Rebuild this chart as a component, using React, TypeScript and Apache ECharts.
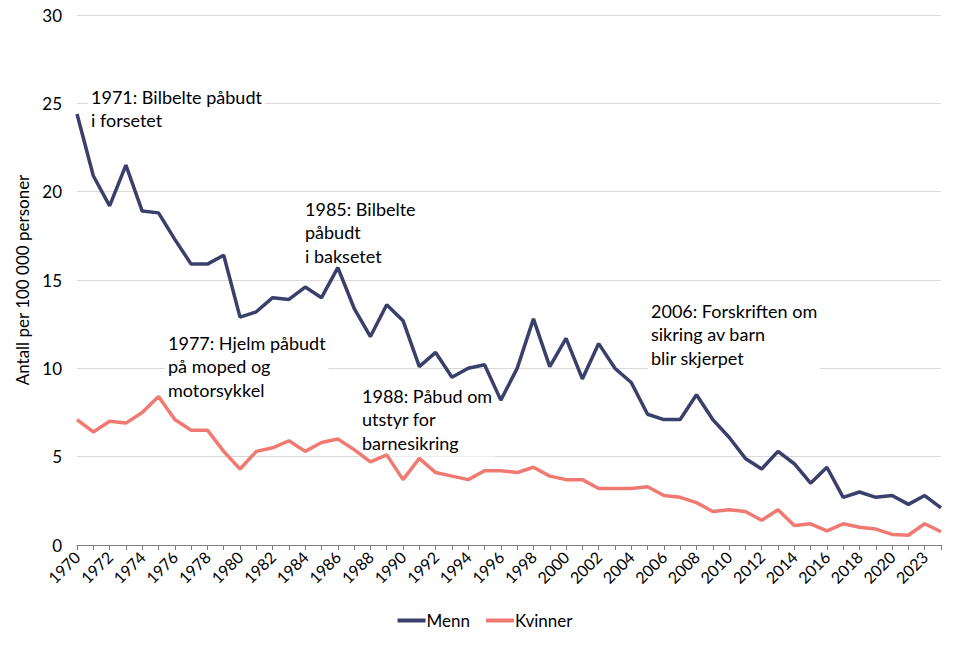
import React, { useEffect, useRef } from "react";
import * as echarts from "echarts";

const years = [
  "1970","1971","1972","1973","1974","1975","1976","1977","1978","1979",
  "1980","1981","1982","1983","1984","1985","1986","1987","1988","1989",
  "1990","1991","1992","1993","1994","1995","1996","1997","1998","1999",
  "2000","2001","2002","2003","2004","2005","2006","2007","2008","2009",
  "2010","2011","2012","2013","2014","2015","2016","2017","2018","2019",
  "2020","2022","2023","2024",
];

const menn = [
  24.4, 20.9, 19.2, 21.5, 18.9, 18.8, 17.3, 15.9, 15.9, 16.4,
  12.9, 13.2, 14.0, 13.9, 14.6, 14.0, 15.7, 13.4, 11.8, 13.6,
  12.7, 10.1, 10.9, 9.5, 10.0, 10.2, 8.2, 10.0, 12.8, 10.1,
  11.7, 9.4, 11.4, 10.0, 9.2, 7.4, 7.1, 7.1, 8.5, 7.1,
  6.1, 4.9, 4.3, 5.3, 4.6, 3.5, 4.4, 2.7, 3.0, 2.7,
  2.8, 2.3, 2.8, 2.1,
];

const kvinner = [
  7.1, 6.4, 7.0, 6.9, 7.5, 8.4, 7.1, 6.5, 6.5, 5.3,
  4.3, 5.3, 5.5, 5.9, 5.3, 5.8, 6.0, 5.4, 4.7, 5.1,
  3.7, 4.9, 4.1, 3.9, 3.7, 4.2, 4.2, 4.1, 4.4, 3.9,
  3.7, 3.7, 3.2, 3.2, 3.2, 3.3, 2.8, 2.7, 2.4, 1.9,
  2.0, 1.9, 1.4, 2.0, 1.1, 1.2, 0.8, 1.2, 1.0, 0.9,
  0.6, 0.55, 1.2, 0.75,
];

const annotations = [
  { x: 91, y: 96, lines: ["1971: Bilbelte påbudt", "i forsetet"] },
  { x: 305, y: 208, lines: ["1985: Bilbelte", "påbudt", "i baksetet"] },
  { x: 168, y: 342, lines: ["1977: Hjelm påbudt", "på moped og", "motorsykkel"] },
  { x: 362, y: 395, lines: ["1988: Påbud om", "utstyr for", "barnesikring"] },
  { x: 651, y: 310, lines: ["2006: Forskriften om", "sikring av barn", "blir skjerpet"] },
];

const FONT = "Lato, 'Open Sans', sans-serif";

export default function App() {
  const ref = useRef<HTMLDivElement>(null);
  useEffect(() => {
    document.body.style.margin = "0";
    if (!ref.current) return;
    const chart = echarts.init(ref.current, undefined, { renderer: "svg" });
    const lineH = 23.5;
    chart.setOption({
      animation: false,
      textStyle: { fontFamily: FONT },
      grid: { left: 77, right: 29, top: 15, bottom: 102, containLabel: false },
      legend: {
        bottom: 13,
        left: "center",
        itemWidth: 28,
        itemHeight: 4,
        itemGap: 16,
        icon: "rect",
        textStyle: { fontSize: 17, color: "#000", fontFamily: FONT, padding: [0, 0, 0, -4] },
        data: ["Menn", "Kvinner"],
      },
      xAxis: {
        type: "category",
        data: years,
        boundaryGap: false,
        axisLine: { lineStyle: { color: "#7f7f7f", width: 1 } },
        axisTick: { show: true, interval: 0, length: 5, lineStyle: { color: "#7f7f7f" } },
        axisLabel: {
          interval: 1,
          rotate: 45,
          fontSize: 16,
          color: "#000",
          margin: 9,
          fontFamily: FONT,
        },
      },
      yAxis: {
        type: "value",
        min: 0,
        max: 30,
        interval: 5,
        name: "Antall per 100 000 personer",
        nameLocation: "middle",
        nameGap: 39,
        nameTextStyle: { fontSize: 17, color: "#000", fontFamily: FONT },
        axisLine: { show: false },
        axisTick: { show: false },
        axisLabel: { fontSize: 17, color: "#000", margin: 15, fontFamily: FONT },
        splitLine: { lineStyle: { color: "#d9d9d9", width: 1 } },
      },
      series: [
        {
          name: "Menn",
          type: "line",
          data: menn,
          symbol: "none",
          z: 3,
          lineStyle: { color: "#3b3f6b", width: 3.5 },
          itemStyle: { color: "#3b3f6b" },
        },
        {
          name: "Kvinner",
          type: "line",
          data: kvinner,
          symbol: "none",
          z: 3,
          lineStyle: { color: "#f07a72", width: 3.5 },
          itemStyle: { color: "#f07a72" },
        },
      ],
      graphic: annotations.map((a) => ({
        type: "text",
        left: a.x - 3,
        top: a.y - 11 - 2,
        silent: true,
        z: 1,
        style: {
          text: a.lines.join("\n"),
          fontSize: 18,
          lineHeight: lineH,
          fontFamily: FONT,
          fill: "#000",
          backgroundColor: "#fff",
          padding: [2, 3, 2, 3],
        },
      })),
    });
    return () => chart.dispose();
  }, []);
  return <div ref={ref} style={{ width: 970, height: 647 }} />;
}
